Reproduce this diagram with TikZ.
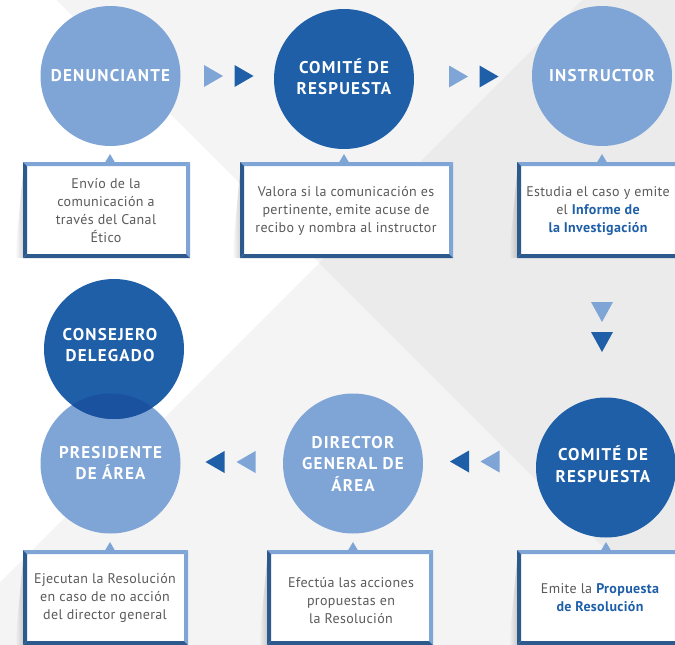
\documentclass[tikz,border=0pt]{standalone}
\usepackage{fontspec}
\setmainfont{PT Sans}
\newfontfamily\titlefam{PT Sans}[LetterSpace=7]
\newfontfamily\bodyfam{PT Sans}[LetterSpace=2.5]
\usetikzlibrary{fadings}
\definecolor{lblue}{HTML}{7FA5D6}
\definecolor{dblue}{HTML}{1F5FA8}
\definecolor{lensc}{HTML}{1B52A0}
\definecolor{bdark}{HTML}{2D5A8C}
\definecolor{txtc}{HTML}{5A5A5A}
\definecolor{hlc}{HTML}{1F5FA8}
\definecolor{bgA}{HTML}{F4F4F4}
\definecolor{bgB}{HTML}{EBEBEB}
\newcommand\mytitlefont{\titlefam\fontsize{17}{21.5}\selectfont\bfseries}
\newcommand\myboxfont{\bodyfam\fontsize{14}{18}\selectfont}
\newcommand\hl[1]{{\bfseries\color{hlc}#1}}
\tikzset{
  circ/.style={circle, minimum size=140pt, inner sep=0pt, text=white, font=\mytitlefont, align=center},
  lightc/.style={circ, fill=lblue},
  darkc/.style={circ, fill=dblue},
  boxtext/.style={text=txtc, font=\myboxfont, align=center, inner sep=0pt},
  arrlight/.style={fill=lblue},
  arrdark/.style={fill=dblue},
}
% x1 y1 x2 y2 pointer-x
\newcommand\bevbox[5]{%
  \fill[black,opacity=0.16,path fading=west] ({#1},{#2+10}) -- ({#1-8},{#4}) -- ({#1},{#4}) -- cycle;
  \fill[white] ({#1},{#2}) rectangle ({#3},{#4});
  \fill[lblue] ({#1},{#2}) -- ({#3},{#2}) -- ({#3-4},{#2+4}) -- ({#1+4},{#2+4}) -- cycle;
  \fill[lblue] ({#3},{#2}) -- ({#3},{#4}) -- ({#3-4},{#4-4}) -- ({#3-4},{#2+4}) -- cycle;
  \fill[bdark] ({#1},{#2}) -- ({#1+4},{#2+4}) -- ({#1+4},{#4-4}) -- ({#1},{#4}) -- cycle;
  \fill[bdark] ({#1},{#4}) -- ({#3},{#4}) -- ({#3-4},{#4-4}) -- ({#1+4},{#4-4}) -- cycle;
  \fill[lblue] ({#5-5},{#2+0.5}) -- ({#5},{#2-8}) -- ({#5+5},{#2+0.5}) -- cycle;
}
% right-pointing triangle centred at (#1,#2)
\newcommand\triR[3]{\fill[#3] ({#1-9.5},{#2-11}) -- ({#1+9.5},{#2}) -- ({#1-9.5},{#2+11}) -- cycle;}
\newcommand\triLf[3]{\fill[#3] ({#1+9.5},{#2-11}) -- ({#1-9.5},{#2}) -- ({#1+9.5},{#2+11}) -- cycle;}
\newcommand\triD[3]{\fill[#3] ({#1-11},{#2-10}) -- ({#1+11},{#2-10}) -- ({#1},{#2+10}) -- cycle;}
\begin{document}
\begin{tikzpicture}[x=1pt,y=-1pt]
\useasboundingbox (0,0) rectangle (675,645);
\begin{scope}
\clip (0,0) rectangle (675,645);
% background
\fill[bgA] (0,0) rectangle (675,645);
\fill[bgB] (319,263) -- (582,0) -- (675,0) -- (675,619) -- cycle;
\fill[white] (0,0) -- (56,0) -- (319,263) -- (0,582) -- cycle;

% boxes
\bevbox{23}{162}{190}{258}{110}
\bevbox{240}{162}{453}{258}{344}
\bevbox{517}{162}{690}{258}{602}
\bevbox{23}{550}{188}{645}{110}
\bevbox{267}{550}{433}{645}{353}
\bevbox{517}{550}{690}{645}{606}

% circles
\node[lightc] (den) at (110.5,76) {DENUNCIANTE};
\node[darkc]  (com1) at (344,79) {};
\node[lightc] (ins) at (602,76) {INSTRUCTOR};
\node[lightc] (pre) at (110.5,463.5) {};
\node[darkc]  (con) at (114,349) {};
\begin{scope}
  \clip (114,349) circle[radius=70pt];
  \fill[lensc] (110.5,463.5) circle[radius=70pt];
\end{scope}
\node[lightc] (dir) at (353,463.5) {};
\node[darkc]  (com2) at (606,467.5) {};

% circle titles
\node[circ, minimum size=0pt] (com1t) at (344,76.5) {COMITÉ DE\\RESPUESTA};
\node[circ, minimum size=0pt] (cont) at (110,345) {CONSEJERO\\DELEGADO};
\node[circ, minimum size=0pt] (pret) at (110.5,463) {PRESIDENTE\\DE ÁREA};
\node[circ, minimum size=0pt] (dirt) at (353,463.5) {DIRECTOR\\GENERAL DE\\ÁREA};
\node[circ, minimum size=0pt] (com2t) at (603,464) {COMITÉ DE\\RESPUESTA};

% arrow triangles
\triR{213.5}{76}{arrlight}
\triR{244}{76}{arrdark}
\triR{458.5}{76.5}{arrlight}
\triR{489}{76.5}{arrdark}
\triD{602}{312}{arrlight}
\triD{602}{342}{arrdark}
\triLf{215}{462}{arrdark}
\triLf{246}{462}{arrlight}
\triLf{459.5}{461.5}{arrdark}
\triLf{490}{461.5}{arrlight}

% box texts
\node[boxtext] (b1) at (106,211) {Envío de la\\comunicación a\\través del Canal\\Ético};
\node[boxtext] (b2) at (346,211) {Valora si la comunicación es\\pertinente, emite acuse de\\recibo y nombra al instructor};
\node[boxtext] (b3) at (598,211) {Estudia el caso y emite\\el \hl{Informe de}\\\hl{la Investigación}};
\node[boxtext] (b4) at (105,598) {Ejecutan la Resolución\\en caso de no acción\\del director general};
\node[boxtext] (b5) at (351,601) {Efectúa las acciones\\propuestas en\\la Resolución};
\node[boxtext] (b6) at (600,598) {Emite la \hl{Propuesta}\\\hl{de Resolución}};
\end{scope}
\end{tikzpicture}
\end{document}
